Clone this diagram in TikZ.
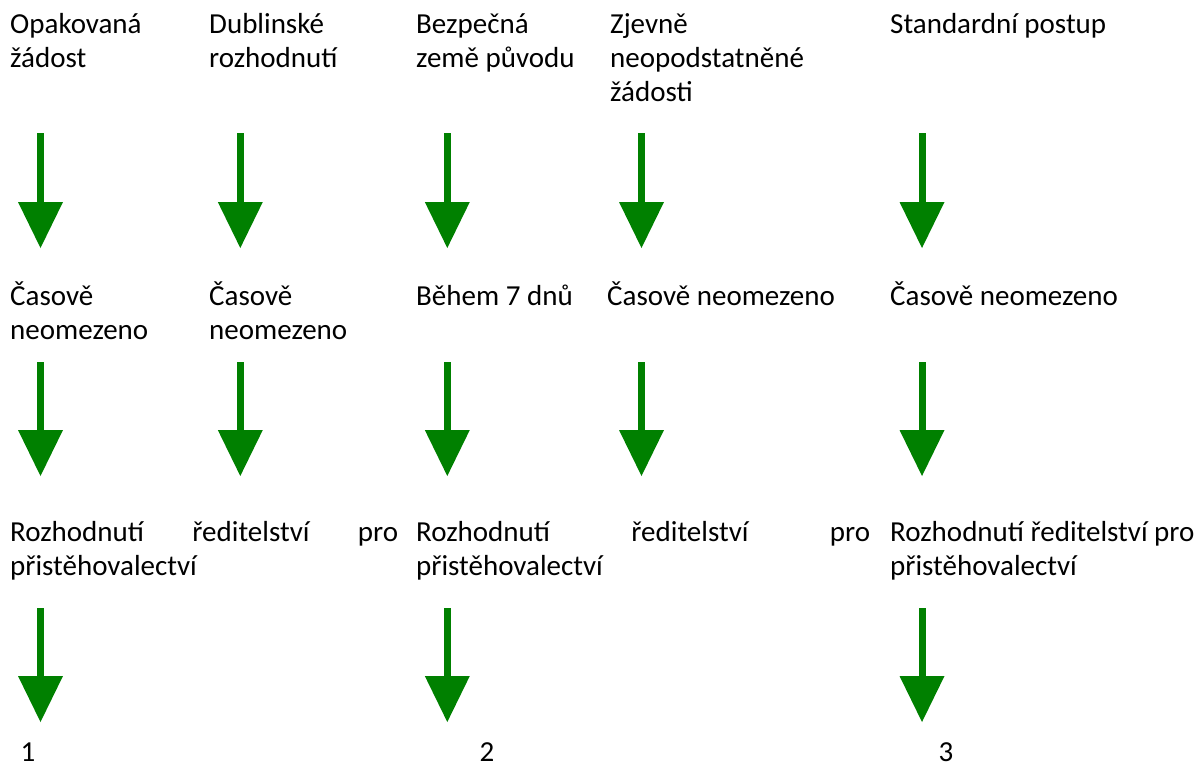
\documentclass[tikz,border=0pt]{standalone}
\usepackage{fontspec}
\setmainfont{Carlito}
\usepackage{tikz}
\usetikzlibrary{arrows.meta}
\usetikzlibrary{positioning}
\definecolor{arrowgreen}{RGB}{0,128,0}
\tikzset{
    stage/.style={anchor=base west, inner sep=0pt, align=left,
        font=\fontsize{29}{34}\selectfont},
    digit/.style={anchor=base, inner sep=0pt, font=\fontsize{29}{34}\selectfont},
    downarrow/.style={draw=arrowgreen, line width=7pt,
        -{Triangle[width=45pt,length=46pt,line width=0pt,color=arrowgreen]}},
}

\begin{document}
\begin{tikzpicture}[x=1pt, y=-1pt]
	\useasboundingbox (0,0) rectangle (1201,763);
	% kind of application (placed at the baseline of the last line)
	\node[stage] (kind1) at (10,67) {Opakovaná\\žádost};
	\node[stage] (kind2) at (209,67) {Dublinské\\rozhodnutí};
	\node[stage] (kind3) at (416,67) {Bezpečná\\země původu};
	\node[stage] (kind4) at (610,101) {Zjevně\\neopodstatněné\\žádosti};
	\node[stage] (kind5) at (890,33) {Standardní postup};
	% time limit
	\node[stage] (time1) at (10,339) {Časově\\neomezeno};
	\node[stage] (time2) at (209,339) {Časově\\neomezeno};
	\node[stage] (time3) at (416,305) {Během 7 dnů};
	\node[stage] (time4) at (607,305) {Časově neomezeno};
	\node[stage] (time5) at (890,305) {Časově neomezeno};
	% decision (text width nodes sit on their first line)
	\node[stage, text width=388pt] (dec1) at (10,541)
		{Rozhodnutí\hfill ředitelství\hfill pro\\přistěhovalectví};
	\node[stage, text width=454pt] (dec3) at (416,541)
		{Rozhodnutí\hfill ředitelství\hfill pro\\přistěhovalectví};
	\node[stage] (dec5) at (890,575) {Rozhodnutí ředitelství pro\\přistěhovalectví};
	% outcome
	\node[digit] (out1) at (28,761) {1};
	\node[digit] (out3) at (487,761) {2};
	\node[digit] (out5) at (946,761) {3};
	% arrows
	\foreach \x/\n in {40.5/1,240.3/2,447.3/3,641.5/4,922/5} {
		\coordinate (top1\n) at (\x,133);
		\coordinate (tip1\n) at (\x,248);
		\coordinate (top2\n) at (\x,362);
		\coordinate (tip2\n) at (\x,476);
		\draw[downarrow] (top1\n) -- (tip1\n);
		\draw[downarrow] (top2\n) -- (tip2\n);
	}
	\foreach \x/\n in {40.5/1,447.3/3,922/5} {
		\coordinate (top3\n) at (\x,608);
		\coordinate (tip3\n) at (\x,722);
		\draw[downarrow] (top3\n) -- (tip3\n);
	}
\end{tikzpicture}
\end{document}
